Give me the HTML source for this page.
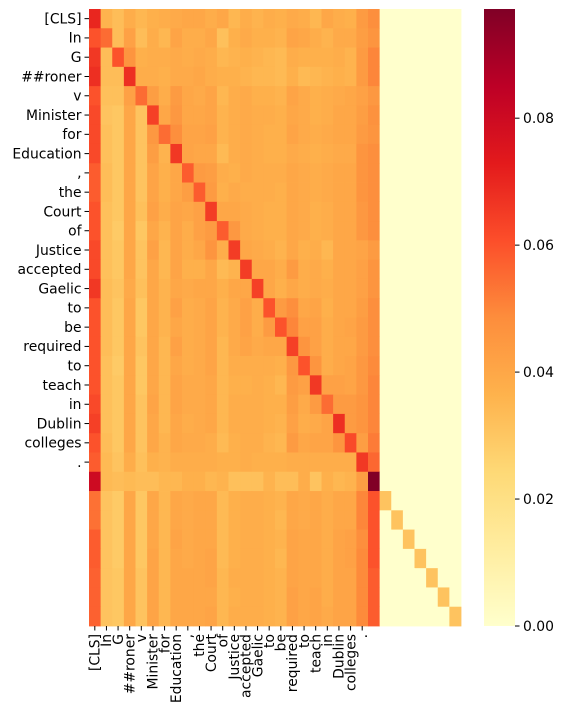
<!DOCTYPE html>
<html><head><meta charset="utf-8"><style>
html,body{margin:0;padding:0;background:#fff;}
svg{display:block;font-family:"DejaVu Sans","Liberation Sans",sans-serif;}
</style></head><body>
<svg id="chart" width="565" height="714" viewBox="0 0 565 714">
<defs>
<linearGradient id="cbgrad" x1="0" y1="1" x2="0" y2="0">
<stop offset="0" stop-color="#ffffcc"/><stop offset="0.125" stop-color="#ffeda0"/><stop offset="0.25" stop-color="#fed976"/><stop offset="0.375" stop-color="#feb24c"/><stop offset="0.5" stop-color="#fd8d3c"/><stop offset="0.625" stop-color="#fc4e2a"/><stop offset="0.75" stop-color="#e31a1c"/><stop offset="0.875" stop-color="#bd0026"/><stop offset="1" stop-color="#800026"/>
</linearGradient>
</defs>
<g id="cells"></g>
<g id="axes"></g>
<rect x="484" y="9" width="31" height="617" fill="url(#cbgrad)"/>
<g id="cbticks"></g>
</svg>
<script>
const tokens = ["[CLS]","In","G","##roner","v","Minister","for","Education",",","the","Court","of","Justice","accepted","Gaelic","to","be","required","to","teach","in","Dublin","colleges","."];
const rows = [
[70,36,33,38,35,37,38,39,40,40,38,40,35,38,36,38,37,39,38,35,40,38,37,44,48],
[60,55,33,42,33,38,35,41,38,38,40,32,37,39,37,37,36,41,40,38,36,39,39,43,46],
[66,33,60,46,37,38,38,39,38,39,38,35,36,37,36,35,34,38,37,37,37,38,36,44,50],
[68,33,33,68,38,38,37,39,39,40,38,37,37,36,35,35,34,37,34,35,36,37,36,44,50],
[60,32,32,42,55,43,38,44,40,39,41,35,38,39,37,37,36,41,39,37,38,39,40,42,45],
[62,31,30,40,31,64,40,45,40,40,41,36,38,39,38,38,37,40,39,37,38,40,40,43,47],
[62,32,30,40,31,45,55,48,41,41,42,36,38,39,38,37,37,41,39,38,39,40,40,44,46],
[62,32,30,40,31,43,36,66,41,40,40,34,38,39,38,37,37,39,38,37,38,39,39,46,48],
[58,33,30,40,31,41,37,40,58,44,43,38,37,39,38,38,38,40,39,38,39,40,40,46,48],
[58,33,30,40,31,41,37,40,43,58,44,37,39,38,38,38,37,40,39,38,39,40,40,46,48],
[60,32,30,40,32,42,38,41,40,42,65,40,40,39,38,37,37,40,39,37,38,40,40,45,48],
[60,32,29,40,30,40,36,41,38,42,44,58,45,39,38,37,37,40,39,37,38,40,40,45,48],
[62,32,30,40,31,42,35,41,38,40,46,38,65,40,39,38,36,40,37,38,35,40,40,41,44],
[62,32,30,40,31,40,35,41,37,37,40,34,36,65,40,40,38,44,38,39,37,40,40,42,46],
[66,33,31,39,32,40,36,40,39,40,40,37,40,40,64,40,37,40,38,39,38,40,40,42,46],
[60,33,30,40,30,40,36,42,38,39,41,36,39,42,38,60,44,48,40,41,37,40,40,43,48],
[60,33,30,40,30,40,36,40,38,39,41,36,39,42,38,44,60,50,42,42,38,40,41,44,48],
[60,33,30,40,31,40,35,42,38,39,41,35,39,41,39,40,40,64,46,42,38,40,40,44,48],
[60,32,29,40,30,40,35,40,38,39,41,35,38,38,38,38,37,45,60,46,38,40,41,45,49],
[60,32,30,40,30,40,35,41,39,39,40,35,37,37,38,37,35,44,42,66,42,42,41,45,50],
[62,32,30,40,31,41,35,41,39,39,40,35,38,38,38,37,37,43,39,44,55,44,44,46,50],
[64,32,30,40,31,40,35,40,38,39,40,35,38,38,38,37,36,42,38,39,41,68,44,46,50],
[60,33,30,40,31,40,36,40,39,39,38,34,37,38,38,36,35,44,40,41,41,46,62,43,52],
[58,34,31,38,32,37,36,38,38,38,38,37,37,38,37,37,37,38,38,38,38,38,38,66,56],
[80,34,33,34,33,33,35,35,37,37,35,36,32,32,32,36,33,33,38,31,37,35,36,43,97],
[54,31,29,40,30,40,35,40,39,40,40,34,37,38,38,37,36,40,39,40,38,40,40,50,60],
[54,31,29,40,30,40,35,40,39,40,40,34,37,38,38,37,35,40,39,40,38,40,40,50,60],
[58,31,29,40,30,40,35,41,39,40,40,34,37,38,38,37,36,41,40,40,38,41,42,48,60],
[58,31,29,40,30,41,35,40,39,40,41,34,37,38,38,37,35,41,40,40,38,41,42,49,60],
[57,31,30,40,31,41,35,40,40,40,41,35,38,38,38,37,36,41,40,40,38,41,41,49,58],
[57,31,30,40,31,41,35,40,40,40,40,35,37,38,38,37,36,42,40,41,38,41,41,49,58],
[57,31,30,40,31,41,35,40,40,40,41,35,38,38,38,37,36,42,40,41,39,41,41,49,58]
];
const padDiag = [31,31,31,31,31,31,31];
const cbTicks = [0,0.02,0.04,0.06,0.08];
const cbTickLabels = ["0.00","0.02","0.04","0.06","0.08"];

const N = 32, X0 = 89, X1 = 461, Y0 = 9, Y1 = 626, VMAX = 0.0972;
const cw = (X1 - X0) / N, ch = (Y1 - Y0) / N;
const xOf = c => X0 + c * cw;
const yOf = r => Y0 + r * ch;
const cbY = v => Y1 - (v / VMAX) * (Y1 - Y0);
const stops = ["#ffffcc","#ffeda0","#fed976","#feb24c","#fd8d3c","#fc4e2a","#e31a1c","#bd0026","#800026"].map(h=>[parseInt(h.slice(1,3),16),parseInt(h.slice(3,5),16),parseInt(h.slice(5,7),16)]);
function color(v){
  let t = Math.max(0, Math.min(1, v / VMAX)) * (stops.length - 1);
  const i = Math.min(stops.length - 2, Math.floor(t)); const f = t - i;
  const a = stops[i], b = stops[i+1];
  return "rgb(" + a.map((x,k)=>Math.round(x + (b[k]-x)*f)).join(",") + ")";
}
const NS = "http://www.w3.org/2000/svg";
const cells = document.getElementById("cells");
for (let r = 0; r < N; r++) {
  for (let c = 0; c < N; c++) {
    let v = 0;
    if (c < rows[r].length) v = rows[r][c] / 1000;
    else if (r >= 25 && c === r) v = padDiag[r - 25] / 1000;
    const el = document.createElementNS(NS, "rect");
    el.setAttribute("x", xOf(c)); el.setAttribute("y", yOf(r));
    el.setAttribute("width", cw + 0.4); el.setAttribute("height", ch + 0.4);
    el.setAttribute("fill", color(v));
    
    
    cells.appendChild(el);
  }
}
const axes = document.getElementById("axes");
tokens.forEach((t, i) => {
  const yc = yOf(i) + ch / 2;
  const tk = document.createElementNS(NS, "line");
  tk.setAttribute("x1", X0 - 4.5); tk.setAttribute("x2", X0); tk.setAttribute("y1", yc); tk.setAttribute("y2", yc);
  tk.setAttribute("stroke", "#000"); tk.setAttribute("stroke-width", "1");
  
  
  axes.appendChild(tk);
  const tx = document.createElementNS(NS, "text");
  tx.setAttribute("x", X0 - 7.5); tx.setAttribute("y", yc + 4.8);
  tx.setAttribute("text-anchor", "end"); tx.setAttribute("font-size", "13.9");
  tx.textContent = t;
  
  
  axes.appendChild(tx);
  const xc = xOf(i) + cw / 2;
  const tk2 = document.createElementNS(NS, "line");
  tk2.setAttribute("x1", xc); tk2.setAttribute("x2", xc); tk2.setAttribute("y1", Y1); tk2.setAttribute("y2", Y1 + 4.5);
  tk2.setAttribute("stroke", "#000"); tk2.setAttribute("stroke-width", "1");
  
  
  axes.appendChild(tk2);
  const tx2 = document.createElementNS(NS, "text");
  tx2.setAttribute("transform", "translate(" + (xc + 4.8) + "," + (Y1 + 8) + ") rotate(-90)");
  tx2.setAttribute("text-anchor", "end"); tx2.setAttribute("font-size", "13.9");
  tx2.textContent = t;
  
  
  axes.appendChild(tx2);
});
const cbt = document.getElementById("cbticks");
cbTicks.forEach((v, i) => {
  const y = cbY(v);
  const l = document.createElementNS(NS, "line");
  l.setAttribute("x1", 515); l.setAttribute("x2", 519.5); l.setAttribute("y1", y); l.setAttribute("y2", y);
  l.setAttribute("stroke", "#000");
  
  
  cbt.appendChild(l);
  const t = document.createElementNS(NS, "text");
  t.setAttribute("x", 523); t.setAttribute("y", y + 4.8); t.setAttribute("font-size", "13.9");
  t.textContent = cbTickLabels[i];
  
  
  cbt.appendChild(t);
});
</script>
</body></html>
